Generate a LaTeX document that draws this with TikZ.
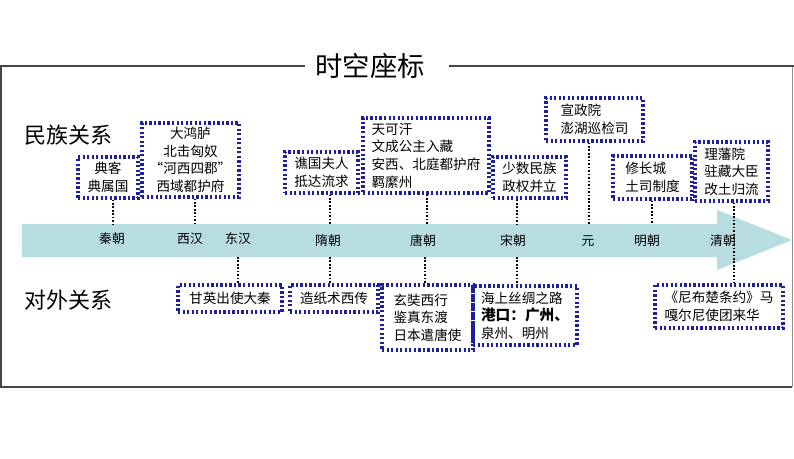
\documentclass[tikz,border=0pt]{standalone}
\usepackage{fontspec}
\setmainfont{Noto Sans CJK SC}
\definecolor{arrowfill}{RGB}{184,221,225}
\definecolor{boxblue}{RGB}{30,30,160}
\definecolor{framegray}{RGB}{70,70,70}
\begin{document}
\begin{tikzpicture}[x=0.75pt,y=-0.75pt,
  dbox/.style={draw=boxblue,line width=2.3pt,dash pattern=on 1.7pt off 1.7pt,
    inner sep=0pt,align=left,font=\fontsize{10.2}{13.2}\selectfont},
  conn/.style={draw=black,line width=1.5pt,dash pattern=on 1.2pt off 1.4pt},
  era/.style={font=\fontsize{9.6}{11}\selectfont},
  side/.style={font=\fontsize{16.5}{18}\selectfont,anchor=west}]
\useasboundingbox (0,0) rectangle (794,458);
% frame
\draw[framegray,line width=0.9pt] (305,66) -- (1,66) -- (1,387) -- (792,387);
\draw[framegray!60,line width=0.6pt] (792,387) -- (792,66);
\draw[framegray,line width=0.9pt] (449,66) -- (794,66);
\node[font=\fontsize{20.5}{22}\selectfont] (title) at (370,66) {时空座标};
% arrow
\fill[arrowfill] (22,224) -- (717,224) -- (717,210) -- (792,240) -- (717,270) -- (717,257) -- (22,257) -- cycle;
% side labels
\node[side] (minzu) at (20,135) {民族关系};
\node[side] (duiwai) at (20,300) {对外关系};
% era labels
\node[era] (qin) at (112,239) {秦朝};
\node[era] (xihan) at (190,239) {西汉};
\node[era] (donghan) at (238,239) {东汉};
\node[era] (sui) at (328,241) {隋朝};
\node[era] (tang) at (423,241) {唐朝};
\node[era] (song) at (513,241) {宋朝};
\node[era] (yuan) at (588,241) {元};
\node[era] (ming) at (647,241) {明朝};
\node[era] (qing) at (723,241) {清朝};
% anchor points on the arrow
\coordinate (t1) at (113,224);
\coordinate (t2) at (195,224);
\coordinate (t3) at (330,224);
\coordinate (t4) at (427,224);
\coordinate (t5) at (517,224);
\coordinate (t6) at (589,224);
\coordinate (t7) at (652,224);
\coordinate (b9) at (238,257);
\coordinate (b10) at (330,257);
\coordinate (b11) at (425,257);
\coordinate (b12) at (517,257);
% upper boxes
\node[dbox,align=center,minimum width=45pt,minimum height=30.75pt] (k1) at (108,177.5) {典客\\典属国};
\node[dbox,align=center,minimum width=72.75pt,minimum height=55.5pt] (k2) at (190.5,160) {大鸿胪\\北击匈奴\\“河西四郡”\\西域都护府};
\node[dbox,minimum width=54.75pt,minimum height=30.75pt] (k3) at (321.5,172.5) {谯国夫人\\抵达流求};
\node[dbox,minimum width=94.5pt,minimum height=56.25pt] (k4) at (426,155.5) {天可汗\\文成公主入藏\\安西、北庭都护府\\羁縻州};
\node[dbox,minimum width=54.75pt,minimum height=30.75pt] (k5) at (529.5,177.5) {少数民族\\政权并立};
\node[dbox,minimum width=72.75pt,minimum height=32.25pt] (k6) at (594.5,119.5) {宣政院\\澎湖巡检司};
\node[dbox,minimum width=59.25pt,minimum height=32.25pt] (k7) at (652.5,177.5) {修长城\\土司制度};
\node[dbox,minimum width=54.75pt,minimum height=44.25pt] (k8) at (731.5,171.5) {理藩院\\驻藏大臣\\改土归流};
% lower boxes
\node[dbox,minimum width=78pt,minimum height=20.25pt] (k9) at (230,298.5) {甘英出使大秦};
\node[dbox,minimum width=66pt,minimum height=20.25pt] (k10) at (334,298.5) {造纸术西传};
\node[dbox,minimum width=68.25pt,minimum height=48.75pt] (k11) at (427.5,317.5) {玄奘西行\\鉴真东渡\\日本遣唐使};
\node[dbox,minimum width=78pt,minimum height=44.25pt] (k12) at (525,315.5) {海上丝绸之路\\{\fontsize{11}{13.2}\selectfont\bfseries 港口：广州、}\\泉州、明州};
\node[dbox,minimum width=96pt,minimum height=32.25pt] (k13) at (719,306.5) {《尼布楚条约》马\\嘎尔尼使团来华};
% connectors
\draw[conn] (k1.south -| t1) -- (t1);
\draw[conn] (k2.south -| t2) -- (t2);
\draw[conn] (k3.south -| t3) -- (t3);
\draw[conn] (k4.south -| t4) -- (t4);
\draw[conn] (k5.south -| t5) -- (t5);
\draw[conn] (k6.south -| t6) -- (t6);
\draw[conn] (k7.south -| t7) -- (t7);
\coordinate (q8) at (734,0);
\draw[conn] (k8.south -| q8) -- (k13.north -| q8);
\draw[conn] (b9) -- (k9.north -| b9);
\draw[conn] (b10) -- (k10.north -| b10);
\draw[conn] (b11) -- (k11.north -| b11);
\draw[conn] (b12) -- (k12.north -| b12);
\end{tikzpicture}
\end{document}
